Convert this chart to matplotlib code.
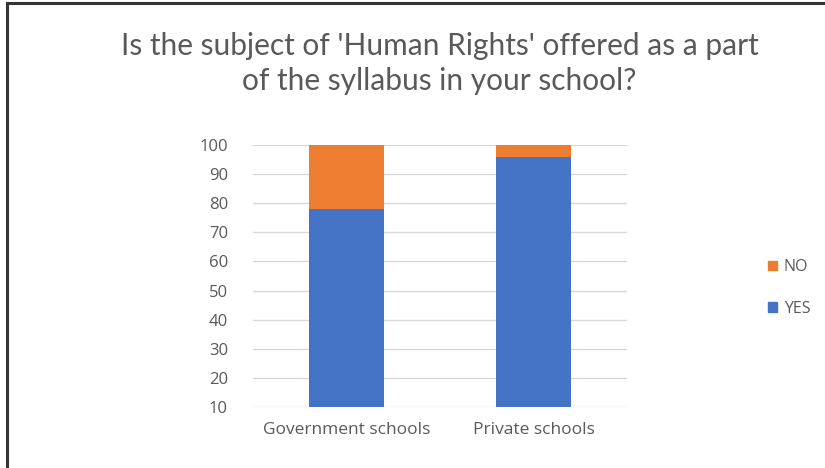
import numpy as np
import matplotlib.pyplot as plt
from matplotlib.lines import Line2D
from matplotlib.patches import Patch

# data
schools = ['Government schools', 'Private schools']
yes_pct = [78, 96]
no_pct = [22, 4]
y_ticks = [10, 20, 30, 40, 50, 60, 70, 80, 90, 100]

blue = '#4472c4'
orange = '#ed7d31'
grey_txt = '#595959'

plt.rcParams['font.family'] = ['Open Sans', 'DejaVu Sans']

fig = plt.figure(figsize=(8.25, 4.68), dpi=100)
ax = fig.add_axes([0.3067, 0.1303, 0.4533, 0.5599])

x = np.arange(len(schools))
ax.bar(x, yes_pct, width=0.4, color=blue, zorder=2)
ax.bar(x, no_pct, width=0.4, bottom=yes_pct, color=orange, zorder=2)

ax.set_xlim(-0.5, 1.5)
ax.set_ylim(10, 100)
ax.set_yticks(y_ticks)
ax.set_xticks(x)
ax.set_xticklabels(schools)
ax.tick_params(axis='both', length=0, colors=grey_txt)
ax.tick_params(axis='x', pad=11, labelsize=12.5)
ax.tick_params(axis='y', pad=18, labelsize=12)
ax.grid(axis='y', color='#d9d9d9', linewidth=1, zorder=0)
for s in ax.spines.values():
    s.set_visible(False)

fig.text(0.533, 0.864, "Is the subject of 'Human Rights' offered as a part\nof the syllabus in your school?",
         ha='center', va='center', fontsize=21.5, color=grey_txt, linespacing=1.3,
         family=['Lato', 'DejaVu Sans'])

handles = [Patch(color=orange, label='NO'), Patch(color=blue, label='YES')]
fig.legend(handles=handles, loc='center left', bbox_to_anchor=(0.914, 0.385),
           frameon=False, fontsize=11.5, labelcolor=grey_txt,
           handlelength=0.55, handleheight=0.55, handletextpad=0.4, labelspacing=1.6)

# frame edges at left and top
fig.add_artist(Line2D([0.008, 0.008], [0, 0.993], color='#333333', linewidth=2.2, transform=fig.transFigure))
fig.add_artist(Line2D([0.008, 1.0], [0.993, 0.993], color='#333333', linewidth=2.2, transform=fig.transFigure))

fig.savefig('out.png', dpi=100)
